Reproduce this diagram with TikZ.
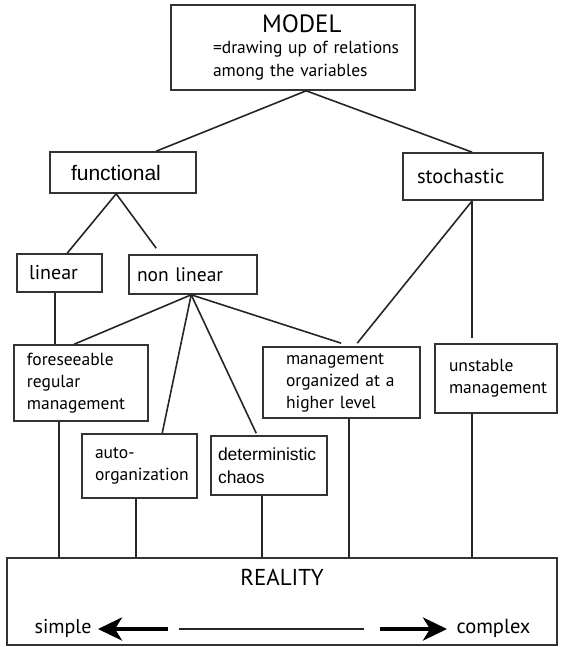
\documentclass[tikz,border=0pt]{standalone}
\usepackage{fontspec}
\setmainfont{PT Sans}
\newfontfamily\arialish{Liberation Sans}
\usetikzlibrary{arrows.meta,calc}
\tikzset{
  box/.style={draw=black!80, line width=1.6pt, inner sep=0pt, align=left,
    font=\fontsize{17.5}{22}\selectfont},
  link/.style={draw=black!85, line width=1.6pt},
  bigarrow/.style={line width=3.8pt, -{Stealth[length=24pt,width=23pt,inset=7pt]}}
}
% \mybox{name}{x1}{y1}{x2}{y2}{left padding}{options}{text}
\newcommand{\mybox}[8]{%
  \pgfmathsetmacro{\bw}{#4-#2}\pgfmathsetmacro{\bh}{#5-#3}%
  \pgfmathsetmacro{\tw}{#4-#2-2*#6}%
  \node[box, minimum width=\bw pt, minimum height=\bh pt, text width=\tw pt, #7]
    (#1) at ({(#2+#4)/2},{(#3+#5)/2}) {#8};}
\begin{document}
\begin{tikzpicture}[x=1pt,y=-1pt]
\useasboundingbox (0,0) rectangle (562,647);
% boxes
\mybox{model}{171}{5}{415}{90}{10}{font=\fontsize{17.5}{23}\selectfont}{%
  \hspace*{81pt}{\fontsize{25}{26}\selectfont MODEL}\\[-2pt]
  \hspace*{32pt}=drawing up of relations\\
  \hspace*{32pt}among the variables}
\mybox{fun}{50}{152}{196}{193}{21}{font=\arialish\fontsize{21}{22}\selectfont}{functional}
\mybox{sto}{403}{153}{543}{200}{14}{font=\fontsize{20.5}{22}\selectfont}{stochastic}
\mybox{lin}{17}{254}{102}{292}{12}{font=\fontsize{20}{22}\selectfont}{linear}
\mybox{nlin}{129}{255}{257}{294}{8}{font=\fontsize{19.5}{22}\selectfont}{non linear}
\mybox{fore}{14}{345}{148}{421}{13}{}{foreseeable\\regular\\management}
\mybox{auto}{82}{434}{197}{498}{13}{}{auto-\\organization}
\mybox{chaos}{211}{436}{327}{495}{7}{font=\arialish\fontsize{17.5}{23}\selectfont}{deterministic\\chaos}
\mybox{mgmt}{263}{347}{420}{418}{23}{}{management\\organized at a\\higher level}
\mybox{unst}{435}{344}{557}{413}{14}{}{unstable\\management}
\mybox{real}{7}{558}{557}{645}{0}{}{}
% texts inside the reality box
\node[font=\fontsize{23}{25}\selectfont] (realt) at (282,577) {REALITY};
\node[font=\fontsize{20}{22}\selectfont, anchor=east] (simple) at (95,628) {simple};
\node[font=\fontsize{20.5}{22}\selectfont, anchor=west] (complex) at (453,628) {complex};
\coordinate (la) at (168,629);
\coordinate (ra) at (380,629);
\coordinate (ma) at (179,629);
\coordinate (mb) at (364,629);
\draw[bigarrow] (la) -- ([xshift=3pt,yshift=-1pt]simple.east);
\draw[bigarrow] (ra) -- ([xshift=-6pt,yshift=-1pt]complex.west);
\draw[link, line width=2pt] (ma) -- (mb);
% connectors
\coordinate (apex) at ($(model.south west)+(136,0)$);
\draw[link] (apex) -- ($(fun.north west)+(107,0)$);
\draw[link] (apex) -- ($(sto.north west)+(70,0)$);
\draw[link] ($(fun.south west)+(67,0)$) -- ($(lin.north west)+(51,0)$);
\draw[link] ($(fun.south west)+(67,0)$) -- ($(nlin.north west)+(28,-6)$);
\draw[link] ($(lin.south west)+(39,0)$) -- ($(fore.north west)+(42,0)$);
\coordinate (nl) at ($(nlin.south west)+(63,0)$);
\draw[link] (nl) -- ($(fore.north west)+(61,0)$);
\draw[link] (nl) -- ($(auto.north west)+(81,0)$);
\draw[link] (nl) -- ($(chaos.north west)+(46,-2)$);
\draw[link] (nl) -- ($(mgmt.north west)+(79,-3)$);
\draw[link] ($(sto.south west)+(70,0)$) -- ($(mgmt.north west)+(95,-3)$);
\draw[link] ($(sto.south west)+(70,0)$) -- ($(unst.north west)+(38,-5)$);
\draw[link] ($(fore.south west)+(46,0)$) -- ($(real.north west)+(53,0)$);
\draw[link] ($(auto.south west)+(55,0)$) -- ($(real.north west)+(130,0)$);
\draw[link] ($(chaos.south west)+(52,0)$) -- ($(real.north west)+(256,0)$);
\draw[link] ($(mgmt.south west)+(87,0)$) -- ($(real.north west)+(343,0)$);
\draw[link] ($(unst.south west)+(38,0)$) -- ($(real.north west)+(466,0)$);
\end{tikzpicture}
\end{document}
